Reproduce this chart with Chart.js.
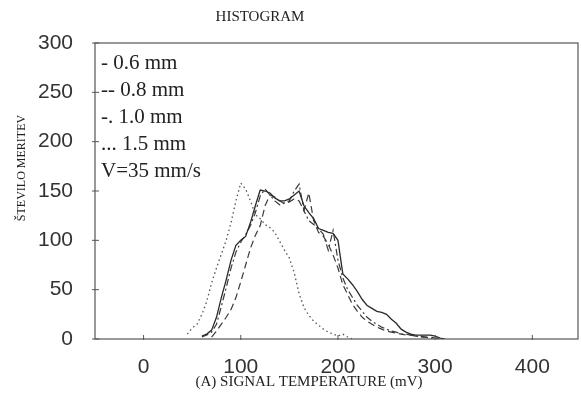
<!DOCTYPE html>
<html>
<head>
<meta charset="utf-8">
<script src="https://cdn.jsdelivr.net/npm/chart.js@4.4.1/dist/chart.umd.min.js"></script>
<style>
  html, body { margin: 0; padding: 0; background: #fff; }
  #wrap { width: 581px; height: 400px; }
</style>
</head>
<body>
<div id="wrap"><canvas id="histChart" width="581" height="400"></canvas></div>
<script>
// signal temperature bins (mV)
const tempBins = [45, 50, 55, 60, 65, 70, 75, 80, 85, 90, 95, 100, 105, 110, 115, 120, 125, 130, 135, 140,
                  145, 150, 155, 160, 165, 170, 175, 180, 185, 190, 195, 200, 205, 210, 215, 220, 225, 230, 235, 240,
                  245, 250, 255, 260, 265, 270, 275, 280, 285, 290, 295, 300, 305, 310];

// counts per bin, null = no data
const mm06 = [null, null, null, 3, 5, 9, 22, 42, 60, 80, 95, 100, 104, 118, 135, 151, 150, 148, 143, 140,
              140, 142, 146, 150, 135, 128, 122, 112, 110, 108, 107, 100, 66, 61, 55, 48, 40, 34, 31, 28,
              27, 25, 20, 16, 10, 7, 5, 4, 4, 4, 4, 3, 1, 0];
const mm08 = [null, null, null, null, null, 2, 8, 15, 22, 30, 42, 58, 75, 92, 105, 115, 135, 146, 144, 140,
              137, 139, 142, 140, 130, 148, 120, 108, 104, 96, 85, 72, 55, 45, 35, 28, 22, 18, 15, 12,
              10, 8, 7, 6, 5, 4, 4, 3, 3, 2, 2, 1, 0, null];
const mm10 = [null, null, null, 2, 4, 7, 15, 33, 52, 72, 88, 98, 106, 115, 128, 145, 152, 146, 140, 136,
              138, 140, 150, 157, 130, 120, 116, 112, 106, 90, 110, 80, 62, 50, 42, 34, 28, 22, 18, 15,
              12, 10, 8, 7, 5, 5, 4, 3, 2, 2, 1, 0, null, null];
const mm15 = [5, 11, 15, 25, 38, 57, 72, 86, 100, 118, 140, 158, 152, 140, 126, 122, 116, 113, 108, 99,
              90, 82, 67, 46, 32, 24, 18, 14, 10, 7, 5, 3, 5, 2, 0, null, null, null, null, null,
              null, null, null, null, null, null, null, null, null, null, null, null, null, null];

const xTicks = [0, 100, 200, 300, 400];
const yTicks = [0, 50, 100, 150, 200, 250, 300];
const legendLines = ['- 0.6 mm', '-- 0.8 mm', '-. 1.0 mm', '... 1.5 mm', 'V=35 mm/s'];

function toPoints(vals) {
    const pts = [];
    tempBins.forEach((t, i) => {
        if (vals[i] !== null) pts.push({ x: t, y: vals[i] });
    });
    return pts;
}

// frame, inner ticks and all the loose text
const decorations = {
    id: 'decorations',
    afterDraw(chart) {
        const ctx = chart.ctx;
        const a = chart.chartArea;
        const xs = chart.scales.x, ys = chart.scales.y;
        ctx.save();
        ctx.strokeStyle = '#555';
        ctx.lineWidth = 1.2;
        ctx.strokeRect(a.left, a.top, a.right - a.left, a.bottom - a.top);

        ctx.lineWidth = 1;
        xTicks.forEach(v => {
            const px = xs.getPixelForValue(v);
            ctx.beginPath(); ctx.moveTo(px, a.bottom + 1); ctx.lineTo(px, a.bottom - 4); ctx.stroke();
        });
        yTicks.forEach(v => {
            const py = ys.getPixelForValue(v);
            ctx.beginPath(); ctx.moveTo(a.left - 3, py); ctx.lineTo(a.left + 4, py); ctx.stroke();
        });

        ctx.fillStyle = '#222';
        ctx.font = '15px "Liberation Serif", "DejaVu Serif", serif';
        ctx.textAlign = 'center';
        ctx.textBaseline = 'middle';
        ctx.fillText('HISTOGRAM', 260, 17);
        ctx.fillText('(A) SIGNAL TEMPERATURE (mV)', 309, 382);

        ctx.save();
        ctx.translate(22, 168);
        ctx.rotate(-Math.PI / 2);
        ctx.font = '12px "Liberation Serif", "DejaVu Serif", serif';
        ctx.fillText('ŠTEVILO MERITEV', 0, 0);
        ctx.restore();

        ctx.font = '21px "Liberation Serif", "DejaVu Serif", serif';
        ctx.textAlign = 'left';
        legendLines.forEach((s, i) => {
            ctx.fillText(s, a.left + 6, 63 + i * 27);
        });
        ctx.restore();
    }
};

const ctx = document.getElementById('histChart').getContext('2d');
new Chart(ctx, {
    type: 'scatter',
    data: {
        datasets: [
            { label: '0.6 mm', data: toPoints(mm06), borderColor: '#2a2a2a', borderWidth: 1.3 },
            { label: '0.8 mm', data: toPoints(mm08), borderColor: '#3a3a3a', borderWidth: 1.2, borderDash: [7, 4] },
            { label: '1.0 mm', data: toPoints(mm10), borderColor: '#3a3a3a', borderWidth: 1.2, borderDash: [7, 3, 2, 3] },
            { label: '1.5 mm', data: toPoints(mm15), borderColor: '#555', borderWidth: 1.3, borderDash: [1.5, 3] }
        ].map(d => Object.assign(d, { showLine: true, pointRadius: 0, fill: false, tension: 0 }))
    },
    options: {
        responsive: false,
        animation: false,
        layout: { padding: { top: 43, right: 3, left: 0, bottom: 0 } },
        plugins: { legend: { display: false }, tooltip: { enabled: false } },
        scales: {
            x: {
                type: 'linear',
                min: -50,
                max: 447,
                grid: { display: false },
                border: { display: false },
                afterBuildTicks: s => { s.ticks = xTicks.map(v => ({ value: v })); },
                afterFit: s => { s.height = 61; },
                ticks: {
                    padding: 8,
                    color: '#333',
                    font: { family: '"Liberation Sans", Arial, sans-serif', size: 21 }
                }
            },
            y: {
                min: 0,
                max: 300,
                grid: { display: false },
                border: { display: false },
                afterBuildTicks: s => { s.ticks = yTicks.map(v => ({ value: v })); },
                afterFit: s => { s.width = 95; },
                ticks: {
                    padding: 14,
                    color: '#333',
                    font: { family: '"Liberation Sans", Arial, sans-serif', size: 21 }
                }
            }
        }
    },
    plugins: [decorations]
});
</script>
</body>
</html>
